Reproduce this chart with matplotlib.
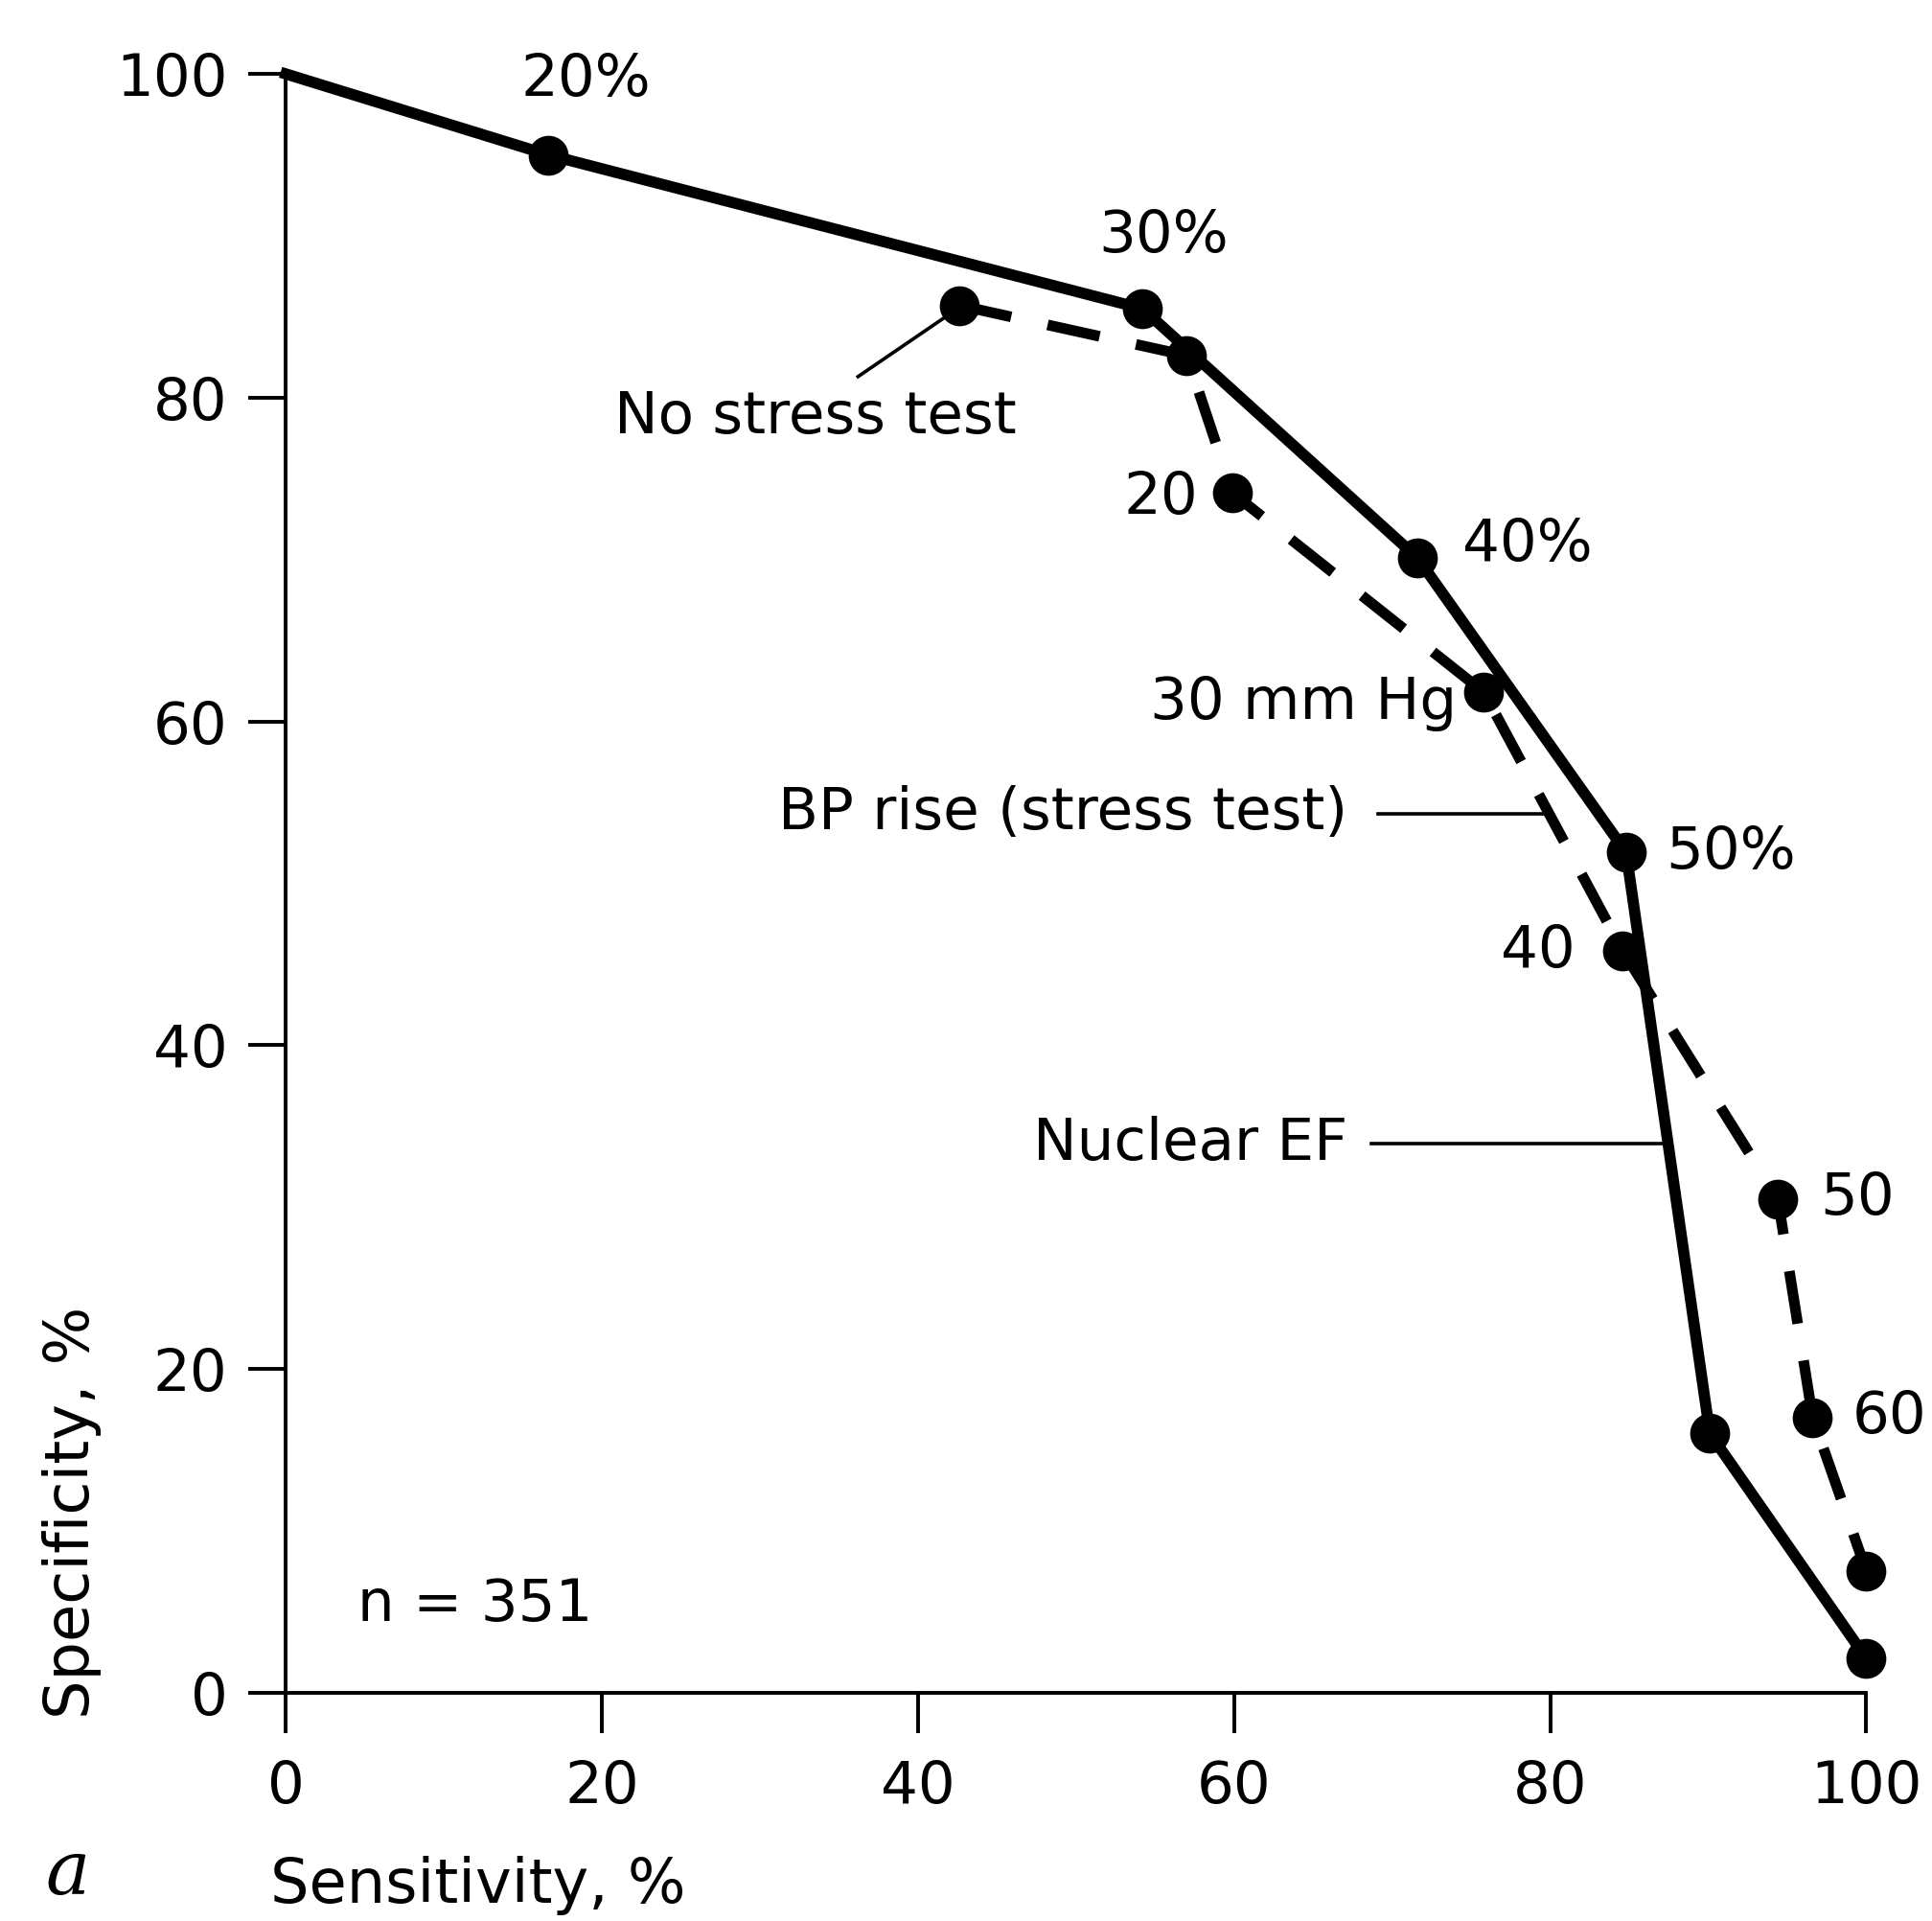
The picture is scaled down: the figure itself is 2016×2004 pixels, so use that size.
import matplotlib
matplotlib.use("Agg")
import matplotlib.pyplot as plt

# Nuclear EF curve (solid), first point is the 100% specificity corner
nuclear_sens = [0, 16.6, 54.2, 71.6, 84.8, 90.1, 100]
nuclear_spec = [100, 95.0, 85.5, 70.1, 51.9, 16.0, 2.1]
nuclear_labels = {1: "20%", 2: "30%", 3: "40%", 4: "50%"}

# BP rise (stress test) curve (dashed)
bp_sens = [42.6, 57.0, 59.9, 75.8, 84.6, 94.4, 96.6, 100]
bp_spec = [85.7, 82.6, 74.1, 61.8, 45.8, 30.5, 17.0, 7.5]
bp_labels = {2: "20", 3: "30 mm Hg", 4: "40", 5: "50", 6: "60"}

ticks = [0, 20, 40, 60, 80, 100]

plt.rcParams['font.family'] = ['DejaVu Sans']
fs = 22

fig = plt.figure(figsize=(10.08, 10.02), dpi=200)
ax = fig.add_axes([0.148, 0.119, 0.818, 0.8425])

ax.plot(nuclear_sens, nuclear_spec, '-', color='black', lw=4.2,
        marker='o', markersize=14, markevery=list(range(1, len(nuclear_sens))),
        clip_on=False, zorder=3)
ax.plot(bp_sens, bp_spec, color='black', lw=4, linestyle=(0, (5, 3.5)),
        dash_capstyle='butt', marker='o', markersize=14, clip_on=False, zorder=3)

# point labels (offsets in points)
nuc_off = {1: (14, 28, 'center'), 2: (8, 27, 'center'), 3: (17, 5, 'left'), 4: (15, 0, 'left')}
for i, txt in nuclear_labels.items():
    dx, dy, ha = nuc_off[i]
    ax.annotate(txt, (nuclear_sens[i], nuclear_spec[i]), xytext=(dx, dy),
                textcoords='offset points', ha=ha, va='center', fontsize=fs)

bp_off = {2: (-13, -2, 'right'), 3: (-10, -4, 'right'), 4: (-18, 0, 'right'),
          5: (16, 0, 'left'), 6: (15, 0, 'left')}
for i, txt in bp_labels.items():
    dx, dy, ha = bp_off[i]
    ax.annotate(txt, (bp_sens[i], bp_spec[i]), xytext=(dx, dy),
                textcoords='offset points', ha=ha, va='center', fontsize=fs)

# curve names with thin leader lines
ax.text(33.5, 78.8, "No stress test", fontsize=fs, ha='center', va='center')
ax.plot([36.2, 41.9], [81.3, 85.1], color='black', lw=1.3)
ax.text(67.2, 54.3, "BP rise (stress test)", fontsize=fs, ha='right', va='center')
ax.plot([69.1, 79.7], [54.3, 54.3], color='black', lw=1.3)
ax.text(67.2, 33.9, "Nuclear EF", fontsize=fs, ha='right', va='center')
ax.plot([68.7, 87.1], [33.9, 33.9], color='black', lw=1.3)

ax.text(4.5, 5.4, "n = 351", fontsize=fs, ha='left', va='center')

ax.set_xlim(0, 100)
ax.set_ylim(0, 100)
ax.set_xticks(ticks)
ax.set_yticks(ticks)
ax.tick_params(axis='both', direction='out', width=1.4, color='black', labelsize=fs)
ax.tick_params(axis='x', length=15, pad=10)
ax.tick_params(axis='y', length=14, pad=8)
for s in ['top', 'right']:
    ax.spines[s].set_visible(False)
for s in ['left', 'bottom']:
    ax.spines[s].set_linewidth(1.4)

fig.text(0.140, 0.0186, "Sensitivity, %", fontsize=23, ha='left', va='center')
fig.text(0.037, 0.2125, "Specificity, %", fontsize=23, ha='center', va='center', rotation=90)
fig.text(0.035, 0.025, "a", fontsize=28, family='DejaVu Serif', style='italic',
         ha='center', va='center')

fig.savefig("out.png", dpi=200, facecolor='white')
